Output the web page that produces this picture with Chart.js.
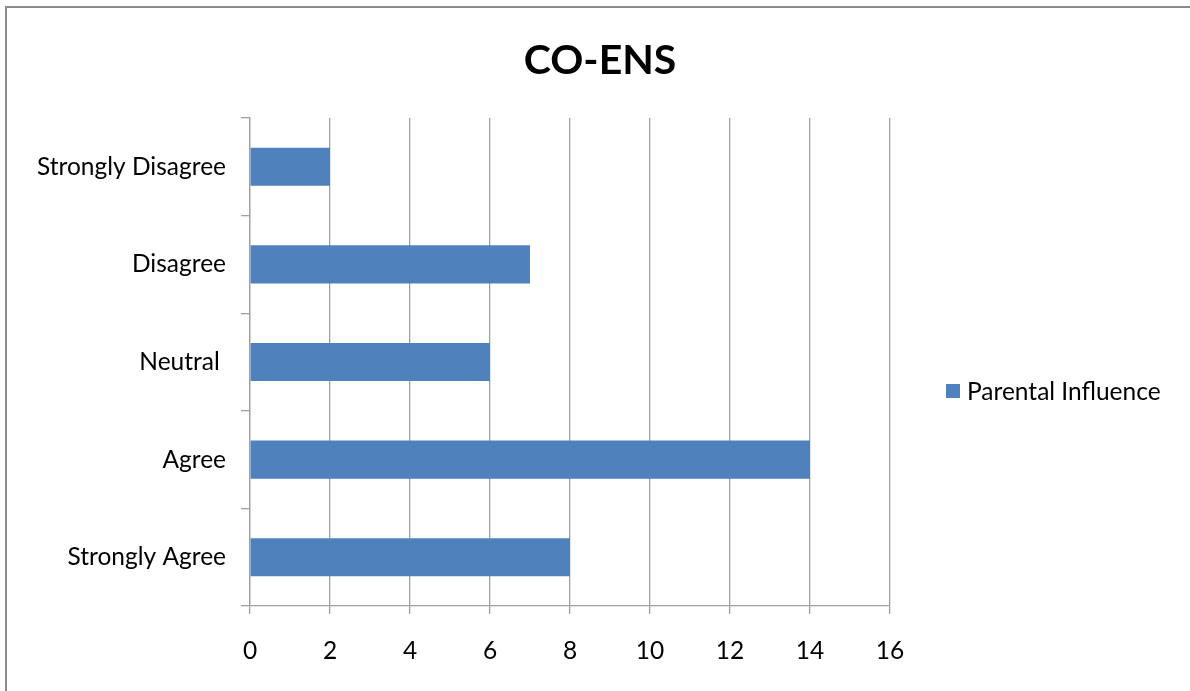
<!DOCTYPE html>
<html>
<head>
<meta charset="utf-8">
<title>CO-ENS</title>
<script src="https://cdn.jsdelivr.net/npm/chart.js@4"></script>
<style>
  html, body { margin: 0; padding: 0; background: #fff; overflow: hidden; }
  #frame {
    position: absolute; left: 5px; top: 6px; width: 1300px; height: 800px;
    border-left: 2px solid #8c8c8c; border-top: 2px solid #8c8c8c;
  }
  #wrap { position: absolute; left: 0; top: 0; width: 1190px; height: 691px; }
</style>
</head>
<body>
<div id="frame"></div>
<div id="wrap"><canvas id="c" width="1190" height="691"></canvas></div>
<script>
// Survey responses (top to bottom as listed on the axis)
const categories = ['Strongly Disagree', 'Disagree', 'Neutral ', 'Agree', 'Strongly Agree'];
const parentalInfluence = [2, 7, 6, 14, 8];
const seriesName = 'Parental Influence';
const chartTitle = 'CO-ENS';
const xMin = 0, xMax = 16, xStep = 2;

const FONT = 'Lato, "Open Sans", sans-serif';
const LABEL_SIZE = 24.5;
const BAR = '#4f81bd';
const GRID = '#a0a0a0';

// Legend drawn to the right of the plot, in the space reserved by the blank right axis
const sideLegend = {
  id: 'sideLegend',
  afterDraw(chart) {
    const { ctx, chartArea } = chart;
    const midY = (chartArea.top + chartArea.bottom) / 2 + 29;
    ctx.save();
    chart.data.datasets.forEach((ds, i) => {
      const y = midY + i * 30;
      const x = chartArea.right + 56;
      ctx.fillStyle = ds.backgroundColor;
      ctx.fillRect(x, y - 7, 14, 14);
      ctx.fillStyle = '#000';
      ctx.font = LABEL_SIZE + 'px ' + FONT;
      ctx.textBaseline = 'middle';
      ctx.textAlign = 'left';
      ctx.fillText(ds.label, x + 21, y + 1);
    });
    ctx.restore();
  }
};

new Chart(document.getElementById('c'), {
  type: 'bar',
  data: {
    labels: categories,
    datasets: [{
      label: seriesName,
      data: parentalInfluence,
      backgroundColor: BAR,
      borderWidth: 0,
      categoryPercentage: 1,
      barPercentage: 0.39
    }]
  },
  options: {
    indexAxis: 'y',
    responsive: false,
    animation: false,
    layout: { padding: { left: 10, right: 0, top: 0, bottom: 0 } },
    plugins: {
      legend: { display: false },
      tooltip: { enabled: false },
      title: {
        display: true,
        text: chartTitle,
        color: '#000',
        font: { family: FONT, size: 41, weight: 'bold', lineHeight: 1.2 },
        padding: { top: 36, bottom: 32.8 }
      }
    },
    scales: {
      x: {
        type: 'linear',
        position: 'bottom',
        min: xMin,
        max: xMax,
        ticks: {
          stepSize: xStep,
          color: '#000',
          font: { family: FONT, size: LABEL_SIZE },
          padding: 22
        },
        grid: {
          color: GRID,
          lineWidth: 1.3,
          tickLength: 8,
          drawTicks: true
        },
        border: { display: true, color: GRID, width: 1.3 },
        afterFit(scale) { scale.height = 85; }
      },
      y: {
        type: 'category',
        position: 'left',
        offset: true,
        ticks: {
          color: '#000',
          font: { family: FONT, size: LABEL_SIZE },
          padding: 15
        },
        grid: {
          offset: true,
          drawOnChartArea: false,
          drawTicks: true,
          tickLength: 9,
          color: GRID,
          lineWidth: 1.3
        },
        border: { display: true, color: GRID, width: 1.3 },
        afterFit(scale) { scale.width = 240; }
      },
      yRight: {
        type: 'linear',
        position: 'right',
        display: true,
        ticks: { display: false },
        grid: { display: false, drawTicks: false },
        border: { display: false },
        afterFit(scale) { scale.width = 300; }
      }
    }
  },
  plugins: [sideLegend]
});
</script>
</body>
</html>
